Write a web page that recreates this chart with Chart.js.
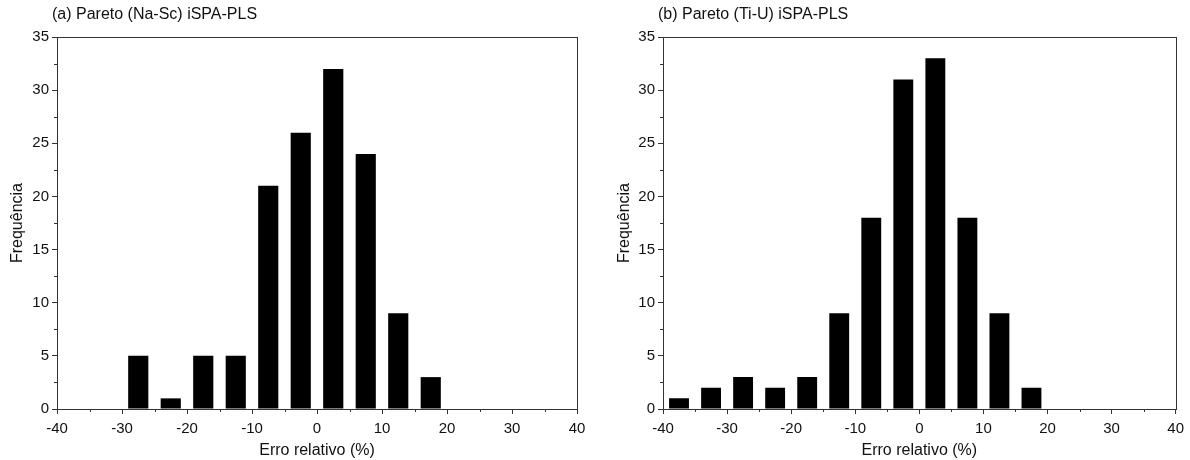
<!DOCTYPE html>
<html>
<head>
<meta charset="utf-8">
<script src="https://cdn.jsdelivr.net/npm/chart.js@4/dist/chart.umd.min.js"></script>
<style>
body{margin:0;background:#fff;width:1190px;height:460px;overflow:hidden}
.painel{position:absolute;top:0;width:595px;height:460px}
</style>
</head>
<body>
<div class="painel" style="left:0"><canvas id="graficoA"></canvas></div>
<div class="painel" style="left:595px"><canvas id="graficoB"></canvas></div>
<script>
// centros das classes (%)
let centrosA=[-27.5,-22.5,-17.5,-12.5,-7.5,-2.5,2.5,7.5,12.5,17.5]
let freqA=[5,1,5,5,21,26,32,24,9,3]

let centrosB=[-37.5,-32.5,-27.5,-22.5,-17.5,-12.5,-7.5,-2.5,2.5,7.5,12.5,17.5]
let freqB=[1,2,3,2,3,9,18,31,33,18,9,2]

let titulos=['(a) Pareto (Na-Sc) iSPA-PLS','(b) Pareto (Ti-U) iSPA-PLS']
let tituloX='Erro relativo (%)'
let tituloY='Frequência'

let fonte='"Liberation Sans", Arial, sans-serif'

// moldura, ticks menores e titulo do painel
let moldura={
id:'moldura',
afterDraw(chart,args,opts){
let ctx=chart.ctx
let a=chart.chartArea
ctx.save()
ctx.strokeStyle='#333'
ctx.lineWidth=1
ctx.strokeRect(Math.round(a.left)+.5,Math.round(a.top)+.5,Math.round(a.right-a.left),Math.round(a.bottom-a.top))

let x=chart.scales.x
let y=chart.scales.y
ctx.beginPath()
for(let i=0;i<x.ticks.length-1;i++){
let v=(x.ticks[i].value+x.ticks[i+1].value)/2
let px=Math.round(x.getPixelForValue(v))+.5
ctx.moveTo(px,a.bottom)
ctx.lineTo(px,a.bottom+3)
}
for(let i=0;i<y.ticks.length-1;i++){
let v=(y.ticks[i].value+y.ticks[i+1].value)/2
let py=Math.round(y.getPixelForValue(v))+.5
ctx.moveTo(a.left,py)
ctx.lineTo(a.left-3,py)
}
ctx.stroke()

ctx.fillStyle='#111'
ctx.font='16px '+fonte
ctx.textBaseline='alphabetic'
ctx.textAlign='left'
ctx.fillText(opts.texto,a.left-5,opts.base)
ctx.restore()
}
}

function criarGrafico(id,centros,freq,titulo,larguraY,dirPad,padTitY){

let ctx=document.getElementById(id)

return new Chart(ctx,{
type:'bar',
data:{
datasets:[{
data:centros.map((c,i)=>({x:c,y:freq[i]})),
backgroundColor:'#000',
borderWidth:0,
categoryPercentage:1,
barPercentage:0.62
}]
},
options:{
responsive:true,
maintainAspectRatio:false,
animation:false,
layout:{
padding:{top:37,right:dirPad,left:0,bottom:0}
},
plugins:{
legend:{display:false},
tooltip:{enabled:false},
moldura:{texto:titulo,base:19}
},
scales:{
x:{
type:'linear',
min:-40,
max:40,
offset:false,
grid:{
offset:false,
drawOnChartArea:false,
tickLength:5,
tickColor:'#333'
},
border:{color:'#333'},
ticks:{
stepSize:10,
color:'#111',
padding:6,
maxRotation:0,
font:{family:fonte,size:15}
},
title:{
display:true,
text:tituloX,
color:'#111',
padding:{top:0,bottom:0},
font:{family:fonte,size:16}
},
afterFit(s){s.height=51}
},
y:{
min:0,
max:35,
grid:{
drawOnChartArea:false,
tickLength:5,
tickColor:'#333'
},
border:{color:'#333'},
ticks:{
stepSize:5,
color:'#111',
padding:3,
font:{family:fonte,size:15}
},
title:{
display:true,
text:tituloY,
color:'#111',
padding:{top:padTitY,bottom:0},
font:{family:fonte,size:16}
},
afterFit(s){s.width=larguraY}
}
}
},
plugins:[moldura]
})

}

criarGrafico('graficoA',centrosA,freqA,titulos[0],57,18,8)
criarGrafico('graficoB',centrosB,freqB,titulos[1],68,7,20)
</script>
</body>
</html>
